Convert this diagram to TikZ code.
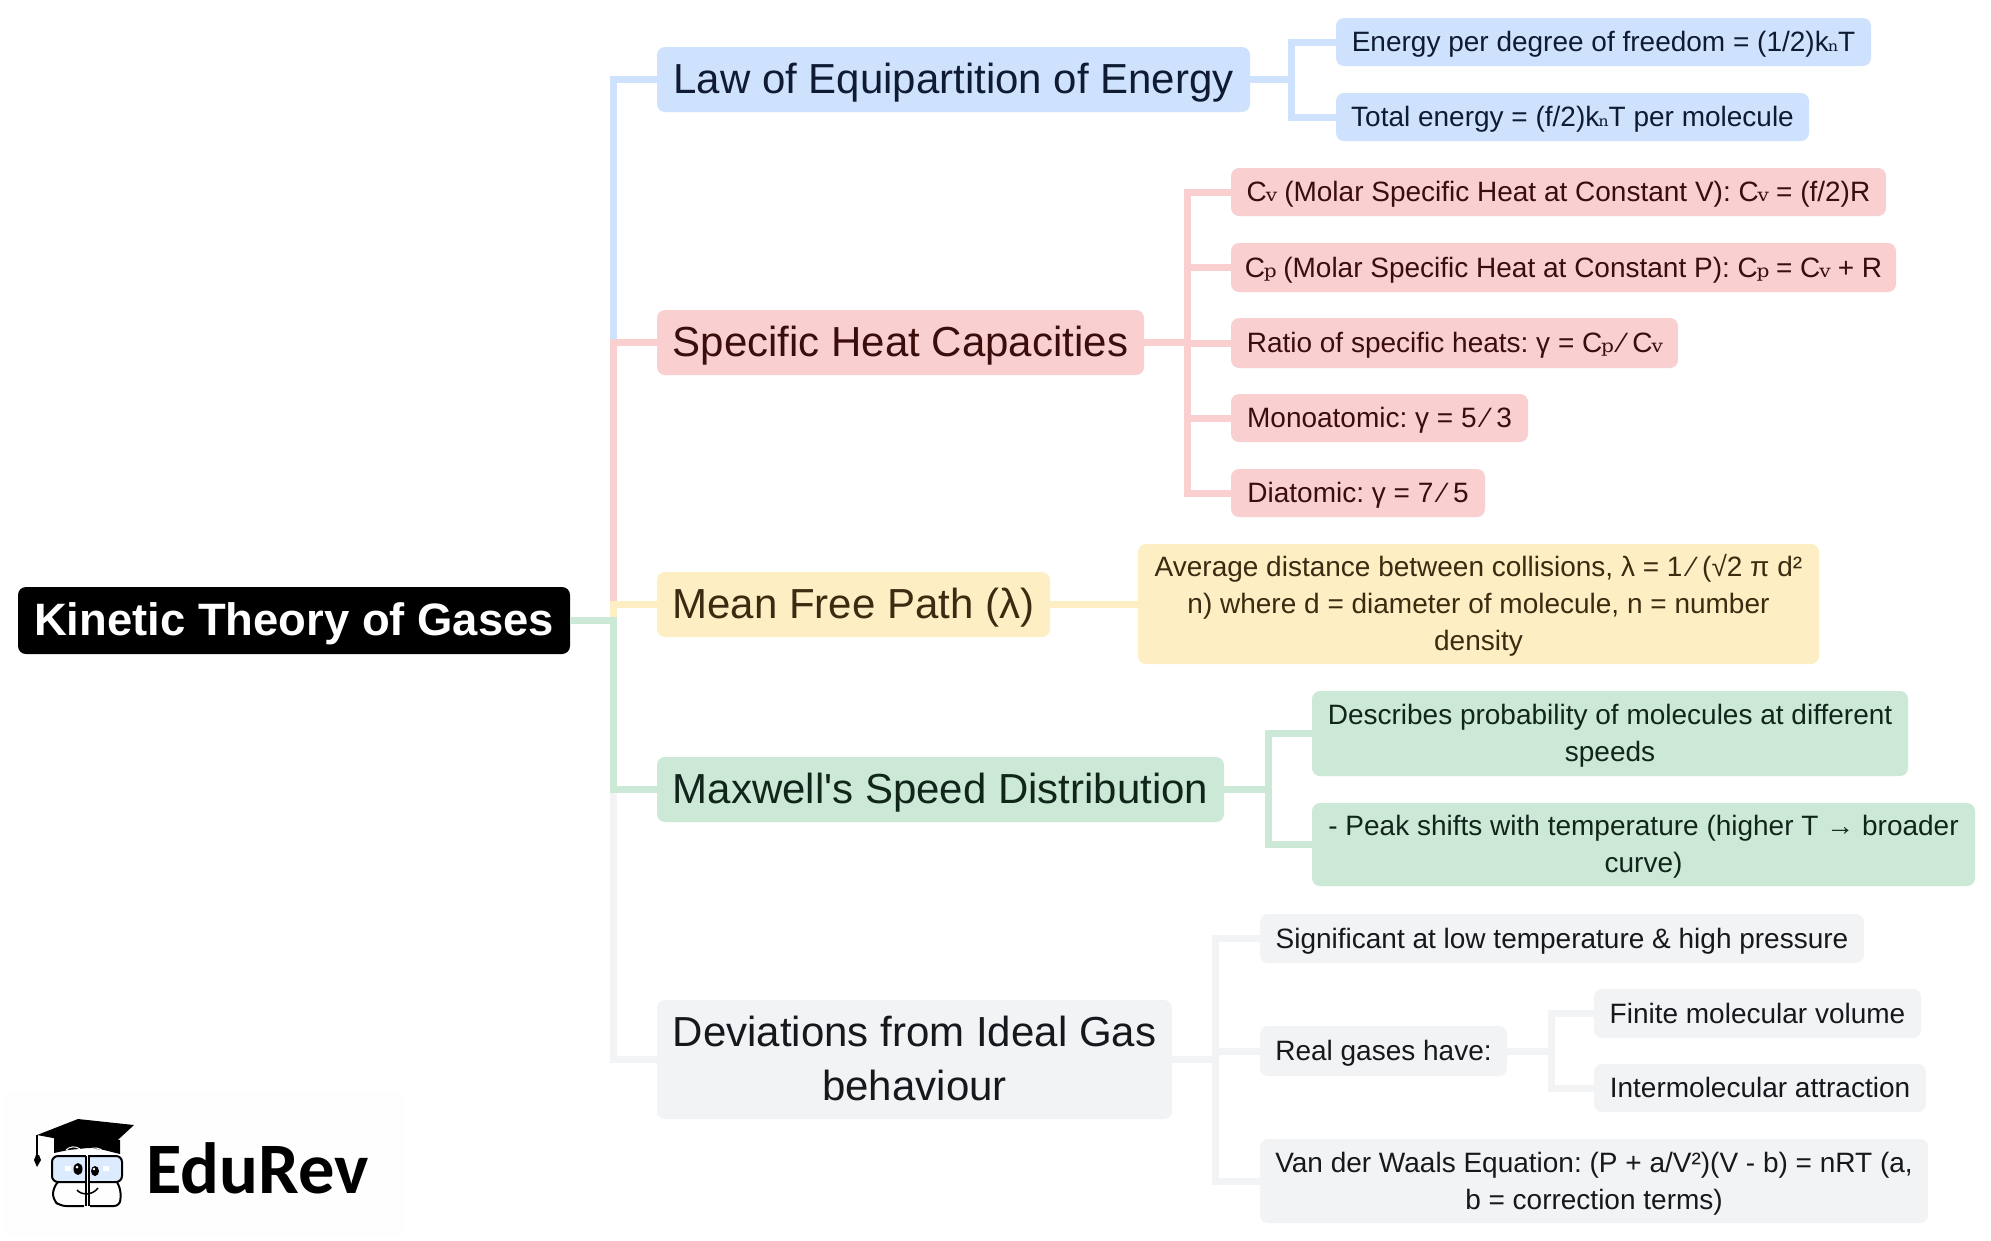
\documentclass[tikz,border=0pt]{standalone}
\usepackage{fontspec}
\setmainfont{Liberation Sans}
\newfontfamily\subf{DejaVu Serif}
\newfontfamily\serf{Liberation Serif}
\newfontfamily\logof{Carlito}
\frenchspacing
\definecolor{bluef}{HTML}{CFE2FD}\definecolor{bluet}{HTML}{0F1B33}
\definecolor{pinkf}{HTML}{F9D0CF}\definecolor{pinkt}{HTML}{3B0D0B}
\definecolor{yelf}{HTML}{FDEFC3}\definecolor{yelt}{HTML}{3D2A10}
\definecolor{grnf}{HTML}{CCE8D7}\definecolor{grnt}{HTML}{11261B}
\definecolor{gryf}{HTML}{F2F3F5}\definecolor{gryt}{HTML}{16181D}
\newcommand{\sbs}[1]{\kern-1.2pt\relax{\subf\fontsize{32}{32}\selectfont #1}\kern-1.2pt\relax}
\newcommand{\sbn}[1]{\kern-1pt\relax{\subf\fontsize{26}{26}\selectfont #1}\kern-1pt\relax}
\newcommand{\fsl}{\kern7pt\relax⁄\kern8pt\relax}
\tikzset{
  x=1pt,y=-1pt,
  boxbase/.style={rounded corners=8pt,inner sep=0pt,align=center,outer sep=0pt},
  rootbox/.style={boxbase,fill=black,text=white,font=\fontsize{45.4}{54}\selectfont\bfseries},
  big/.style={boxbase,font=\fontsize{42}{54}\selectfont},
  small/.style={boxbase,font=\fontsize{28}{37}\selectfont},
  cb/.style={fill=bluef,text=bluet},
  cp/.style={fill=pinkf,text=pinkt},
  cy/.style={fill=yelf,text=yelt},
  cg/.style={fill=grnf,text=grnt},
  cn/.style={fill=gryf,text=gryt},
  conn/.style={line width=7pt,line join=miter,line cap=butt},
}
\newcommand{\bx}[7]{%
  \pgfmathsetmacro{\cxx}{(#2+#4)/2}\pgfmathsetmacro{\cyy}{(#3+#5)/2}%
  \pgfmathsetmacro{\ww}{#4-#2}\pgfmathsetmacro{\hh}{#5-#3}%
  \node[#6,minimum width=\ww pt,minimum height=\hh pt] (#1) at (\cxx,\cyy) {\rule{0pt}{\dimexpr0.74em+5pt\relax}#7\rule[-0.21em]{0pt}{0.21em}};}
\begin{document}
\begin{tikzpicture}
\useasboundingbox (0,0) rectangle (1991,1240);
\fill[white] (0,0) rectangle (1991,1240);
\fill[black!0.4] (4,1092) rectangle (404,1236);
\coordinate (busA) at (613,0);
\coordinate (busL) at (1291,0);
\coordinate (busS) at (1187,0);
\coordinate (busM) at (1268,0);
\coordinate (busD) at (1215,0);
\coordinate (busR) at (1551,0);
% boxes
\bx{root}{18}{587}{570}{654}{rootbox}{Kinetic Theory of Gases}
\bx{law}{657}{47}{1250}{112}{big,cb}{Law of Equipartition of Energy}
\bx{e1}{1336}{18}{1871}{66}{small,cb}{Energy per degree of freedom = (1/2)k\sbn{ₙ}T}
\bx{e2}{1336}{93}{1809}{141}{small,cb}{Total energy = (f/2)k\sbn{ₙ}T per molecule}
\bx{spec}{657}{310}{1144}{375}{big,cp}{Specific Heat Capacities}
\bx{s1}{1231}{168}{1886}{216}{small,cp}{C\sbs{ᵥ} (Molar Specific Heat at Constant V): C\sbs{ᵥ} = (f/2)R}
\bx{s2}{1231}{243}{1896}{292}{small,cp}{C\sbs{ₚ} (Molar Specific Heat at Constant P): C\sbs{ₚ} = C\sbs{ᵥ} + R}
\bx{s3}{1231}{318}{1678}{368}{small,cp}{Ratio of specific heats: γ = C\sbs{ₚ}\fsl C\sbs{ᵥ}}
\bx{s4}{1231}{394}{1528}{442}{small,cp}{Monoatomic: γ = 5\fsl 3}
\bx{s5}{1231}{469}{1485}{517}{small,cp}{Diatomic: γ = 7\fsl 5}
\bx{mean}{657}{572}{1050}{637}{big,cy}{Mean Free Path \smash{(λ)}}
\bx{m1}{1138}{544}{1819}{664}{small,cy}{Average distance between collisions, λ = 1\fsl (√2 π d²\\n) where d = diameter of molecule, n = number\\density}
\bx{max}{657}{757}{1224}{822}{big,cg}{Maxwell\textquotesingle s Speed Distribution}
\bx{x1}{1312}{691}{1908}{776}{small,cg}{Describes probability of molecules at different\\speeds}
\bx{x2}{1312}{803}{1975}{886}{small,cg}{- Peak shifts with temperature (higher T {\serf →} broader\\curve)}
\bx{dev}{657}{1000}{1172}{1119}{big,cn}{Deviations from Ideal Gas\\behaviour}
\bx{d1}{1260}{914}{1864}{963}{small,cn}{Significant at low temperature \& high pressure}
\bx{d2}{1260}{1026}{1507}{1076}{small,cn}{Real gases have:}
\bx{r1}{1594}{989}{1921}{1038}{small,cn}{Finite molecular volume}
\bx{r2}{1594}{1064}{1926}{1112}{small,cn}{Intermolecular attraction}
\bx{d3}{1260}{1139}{1928}{1223}{small,cn}{Van der Waals Equation: (P + a/V²)(V - b) = nRT (a,\\b = correction terms)}
% connectors
\draw[conn,bluef] (root.east) -- (busA|-root.east) -- (busA|-law.west) -- (law.west);
\draw[conn,pinkf] (root.east) -- (busA|-root.east) -- (busA|-spec.west) -- (spec.west);
\draw[conn,yelf] (root.east) -- (busA|-root.east) -- (busA|-mean.west) -- (mean.west);
\draw[conn,gryf] (root.east) -- (busA|-root.east) -- (busA|-dev.west) -- (dev.west);
\draw[conn,grnf] (root.east) -- (busA|-root.east) -- (busA|-max.west) -- (max.west);
\draw[conn,bluef] (law.east) -- (busL|-law.east) -- (busL|-e1.west) -- (e1.west);
\draw[conn,bluef] (law.east) -- (busL|-law.east) -- (busL|-e2.west) -- (e2.west);
\foreach \t in {s1,s2,s3,s4,s5}{\draw[conn,pinkf] (spec.east) -- (busS|-spec.east) -- (busS|-\t.west) -- (\t.west);}
\draw[conn,yelf] (mean.east) -- (m1.west|-mean.east);
\draw[conn,grnf] (max.east) -- (busM|-max.east) -- (busM|-x1.west) -- (x1.west);
\draw[conn,grnf] (max.east) -- (busM|-max.east) -- (busM|-x2.west) -- (x2.west);
\foreach \t in {d1,d2,d3}{\draw[conn,gryf] (dev.east) -- (busD|-dev.east) -- (busD|-\t.west) -- (\t.west);}
\draw[conn,gryf] (d2.east) -- (busR|-d2.east) -- (busR|-r1.west) -- (r1.west);
\draw[conn,gryf] (d2.east) -- (busR|-d2.east) -- (busR|-r2.west) -- (r2.west);
% logo
\node[anchor=base west,inner sep=0pt,font=\logof\fontsize{72.5}{72}\selectfont\bfseries,text=black] (logotext) at (146,1193) {EduRev};
\fill[black] (54,1138) -- (54,1153) -- (68,1150) -- (88,1148) -- (104,1150) -- (120,1154) -- (120,1140) -- cycle;
\fill[black] (37,1135) -- (78,1119) -- (134,1125) -- (108,1149) -- (80,1143) -- cycle;
\draw[black,line width=1.5pt] (37,1135) -- (37,1156);
\fill[black] (37,1167) -- (34,1160) -- (36,1155) -- (39,1155) -- (41,1160) -- cycle;
\draw[white,line width=1pt] (66,1150) .. controls (70,1146) and (76,1146) .. (80,1149);
\draw[white,line width=1pt] (90,1149) .. controls (94,1147) and (100,1148) .. (103,1151);
\draw[black,line width=2pt,fill=bluef!70,rounded corners=6pt] (52,1156) rectangle (122,1182);
\draw[black,line width=2pt,rounded corners=6pt] (84,1206) -- (60,1206) -- (53,1200) -- (53,1188) -- (58,1182);
\draw[black,line width=2pt,rounded corners=6pt] (90,1206) -- (120,1206) -- (121,1190) -- (117,1182);
\draw[white,line width=2pt] (87,1155) -- (87,1207);
\draw[black,line width=2pt] (85.5,1156) -- (85.5,1206);
\draw[black,line width=1.5pt] (89,1156) -- (89,1206);
\fill[black] (78,1169) ellipse [x radius=4.5,y radius=6];
\fill[black] (95,1171) ellipse [x radius=4,y radius=5];
\fill[white] (77,1167) circle (1.5);
\fill[white] (94,1169) circle (1.3);
\fill[white] (65,1166) rectangle (71,1171);
\fill[white] (103,1166) rectangle (109,1171);
\draw[black,line width=1.5pt] (77,1190) .. controls (81,1195) and (92,1196) .. (98,1188);
\end{tikzpicture}
\end{document}
